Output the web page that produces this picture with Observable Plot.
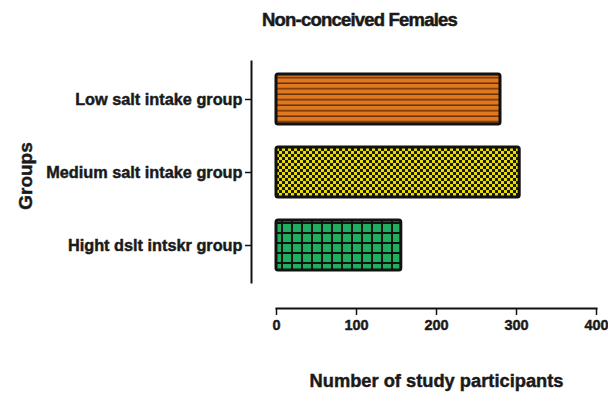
<!DOCTYPE html>
<html>
<head>
<meta charset="utf-8">
<script src="https://cdn.jsdelivr.net/npm/d3@7"></script>
<script src="https://cdn.jsdelivr.net/npm/@observablehq/plot@0.6"></script>
<style>
  html, body { margin: 0; padding: 0; background: #fff; }
  #title { font-family: "Liberation Sans", Arial, sans-serif; font-weight: bold; font-size: 18.5px; letter-spacing: -0.8px;
           color: #1a1a1a; height: 40px; line-height: 40px; width: 608px; text-align: left;
           padding-left: 262px; box-sizing: border-box; -webkit-text-stroke: 0.5px #1a1a1a; }
  svg { display: block; }
  svg text { stroke: #1a1a1a; stroke-width: 0.45px; }
</style>
</head>
<body>
<div id="title">Non-conceived Females</div>
<div id="chart"></div>
<script>
const categories = ["Low salt intake group", "Medium salt intake group", "Hight dslt intskr group"];
const values = [280, 304, 156];
const xTicks = [0, 100, 200, 300, 400];
const xLabel = "Number of study participants";
const yLabel = "Groups";

const data = categories.map((c, i) => ({group: c, n: values[i]}));
const patterns = ["url(#pStripe)", "url(#pCheck)", "url(#pGrid)"];
const font = "Liberation Sans, Arial, sans-serif";

const chart = Plot.plot({
  width: 608,
  height: 355,
  marginLeft: 276,
  marginRight: 12,
  marginTop: 21,
  marginBottom: 113,
  style: {fontFamily: font, color: "#1a1a1a", background: "transparent"},
  x: {domain: [0, 400], axis: null},
  y: {domain: categories, paddingInner: 0.32, paddingOuter: 0.16, axis: null},
  marks: [
    ...data.map((d, i) => Plot.barX([d], {x: "n", y: "group", fill: patterns[i], stroke: "#111", strokeWidth: 3, rx: 2})),
    Plot.frame({anchor: "left", dx: -25, stroke: "#111", strokeWidth: 2}),
    Plot.axisY({anchor: "left", dx: -25, tickSize: 6, tickPadding: 3, fontSize: 16.3, fontWeight: "bold", stroke: "#111", strokeWidth: 1.5, label: null}),
    Plot.frame({anchor: "bottom", dy: 26, stroke: "#111", strokeWidth: 2}),
    Plot.axisX({anchor: "bottom", ticks: xTicks, dy: 26, tickSize: 7, tickPadding: 4, fontSize: 14.5, fontWeight: "bold", stroke: "#111", strokeWidth: 1.5, label: null, tickFormat: d3.format("d")}),
    Plot.text([xLabel], {frameAnchor: "bottom", dy: 99, fontSize: 18.3, fontWeight: "bold", fill: "#1a1a1a", lineAnchor: "middle"}),
    Plot.text([yLabel], {frameAnchor: "left", dx: -251, dy: 4, rotate: -90, fontSize: 19, fontWeight: "bold", fill: "#1a1a1a", textAnchor: "middle", lineAnchor: "middle"})
  ]
});

const svg = d3.select(chart);
const defs = svg.insert("defs", ":first-child");
// horizontal stripes (orange)
const p1 = defs.append("pattern").attr("id", "pStripe").attr("patternUnits", "userSpaceOnUse").attr("width", 10).attr("height", 5.5);
p1.append("rect").attr("width", 10).attr("height", 5.5).attr("fill", "#e0781f");
p1.append("rect").attr("y", 4).attr("width", 10).attr("height", 1.5).attr("fill", "#6b3208");
// checkerboard (yellow/black)
const p2 = defs.append("pattern").attr("id", "pCheck").attr("patternUnits", "userSpaceOnUse").attr("width", 6).attr("height", 6);
p2.append("rect").attr("width", 6).attr("height", 6).attr("fill", "#1a1a00");
p2.append("rect").attr("width", 3).attr("height", 3).attr("fill", "#e8dc10");
p2.append("rect").attr("x", 3).attr("y", 3).attr("width", 3).attr("height", 3).attr("fill", "#e8dc10");
// grid (green with black lines)
const p3 = defs.append("pattern").attr("id", "pGrid").attr("patternUnits", "userSpaceOnUse").attr("width", 10).attr("height", 10).attr("x", 1).attr("y", 2);
p3.append("rect").attr("width", 10).attr("height", 10).attr("fill", "#111");
p3.append("rect").attr("x", 2).attr("y", 2).attr("width", 8).attr("height", 8).attr("fill", "#1fae5e");

document.getElementById("chart").appendChild(chart);
</script>
</body>
</html>
